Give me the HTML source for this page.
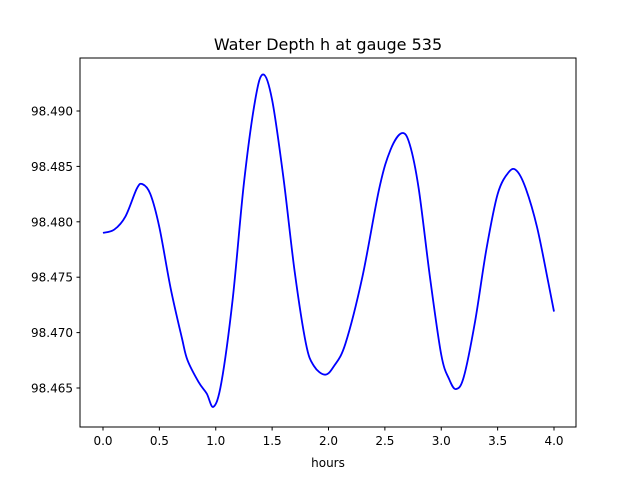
<!DOCTYPE html>
<html><head><meta charset="utf-8"><style>
body{margin:0;background:#fff;}
svg text{font-family:"DejaVu Sans","Liberation Sans",sans-serif;}
</style></head><body>
<svg width="640" height="480" xmlns="http://www.w3.org/2000/svg">
<rect width="640" height="480" fill="#fff"/>
<text x="328" y="50" font-size="16" text-anchor="middle">Water Depth h at gauge 535</text>
<g id="ticks"></g>
<path id="line" fill="none" stroke="#0000ff" stroke-width="1.8"/>
<rect x="80" y="58" width="496" height="369" fill="none" stroke="#000" stroke-width="1"/>
<text x="328" y="467" font-size="12" text-anchor="middle">hours</text>
</svg>
<script>
const hours=[0,0.1,0.2,0.3,0.35,0.42,0.5,0.6,0.7,0.75,0.85,0.92,0.98,1.05,1.15,1.25,1.35,1.42,1.5,1.6,1.7,1.8,1.87,1.97,2.05,2.15,2.3,2.45,2.55,2.65,2.72,2.8,2.9,3.0,3.07,3.13,3.2,3.3,3.4,3.5,3.6,3.67,3.75,3.85,3.95,4.0];
const depth=[98.479,98.4793,98.4805,98.4830,98.4834,98.4825,98.4795,98.474,98.4695,98.4675,98.4655,98.4645,98.4633,98.4655,98.4730,98.4835,98.4910,98.4933,98.4910,98.4840,98.4755,98.4690,98.4670,98.4662,98.4670,98.4690,98.4750,98.4830,98.4865,98.4880,98.4870,98.4830,98.4750,98.4680,98.4658,98.4649,98.4660,98.4710,98.4775,98.4825,98.4845,98.4846,98.4830,98.4795,98.4745,98.4719];
const xTicks=[0,0.5,1,1.5,2,2.5,3,3.5,4];
const xTickLabels=["0.0","0.5","1.0","1.5","2.0","2.5","3.0","3.5","4.0"];
const yTicks=[98.465,98.470,98.475,98.480,98.485,98.490];
const yTickLabels=["98.465","98.470","98.475","98.480","98.485","98.490"];
const ns="http://www.w3.org/2000/svg";
const X=v=>103+(v-0)*112.75;
const Y=v=>388-(v-98.465)*11080;
const g=document.getElementById('ticks');
function mk(t,a){const e=document.createElementNS(ns,t);for(const k in a)e.setAttribute(k,a[k]);g.appendChild(e);return e;}
xTicks.forEach((v,i)=>{
 const l=mk('line',{x1:X(v),x2:X(v),y1:427,y2:430.5,stroke:'#000'});
 
 
 const t=mk('text',{x:X(v),y:445,'font-size':12,'text-anchor':'middle'});t.textContent=xTickLabels[i];
 
 
});
yTicks.forEach((v,i)=>{
 const l=mk('line',{x1:76.5,x2:80,y1:Y(v),y2:Y(v),stroke:'#000'});
 
 
 const t=mk('text',{x:73,y:Y(v)+4.5,'font-size':12,'text-anchor':'end'});t.textContent=yTickLabels[i];
 
 
});
const P=hours.map((h,i)=>[X(h),Y(depth[i])]);
let d='M'+P[0][0]+','+P[0][1];
for(let i=0;i<P.length-1;i++){
 const p0=P[Math.max(0,i-1)],p1=P[i],p2=P[i+1],p3=P[Math.min(P.length-1,i+2)];
 const c1=[p1[0]+(p2[0]-p0[0])/6,p1[1]+(p2[1]-p0[1])/6];
 const c2=[p2[0]-(p3[0]-p1[0])/6,p2[1]-(p3[1]-p1[1])/6];
 d+=' C'+c1+' '+c2+' '+p2;
}
document.getElementById('line').setAttribute('d',d);
</script>
</body></html>
